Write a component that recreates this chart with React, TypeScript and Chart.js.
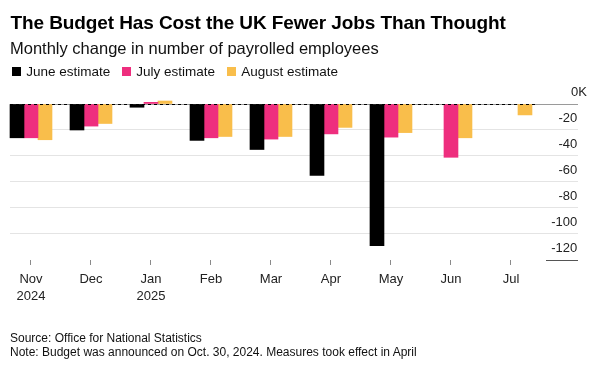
import React, { useEffect, useRef } from 'react';
import { Chart, registerables } from 'chart.js';

Chart.register(...registerables);

const FONT = "'Liberation Sans', Arial, Helvetica, sans-serif";

const titleText = 'The Budget Has Cost the UK Fewer Jobs Than Thought';
const subtitleText = 'Monthly change in number of payrolled employees';
const sourceText = 'Source: Office for National Statistics';
const noteText = 'Note: Budget was announced on Oct. 30, 2024. Measures took effect in April';

const months = ['Nov', 'Dec', 'Jan', 'Feb', 'Mar', 'Apr', 'May', 'Jun', 'Jul'];
const yearLabels = ['2024', '', '2025', '', '', '', '', '', ''];
const seriesNames = ['June estimate', 'July estimate', 'August estimate'];
const seriesColors = ['#000000', '#EE2E7E', '#F9BE4B'];
const juneEstimate = [-26, -20, -2.5, -28, -35, -55, -109, null, null];
const julyEstimate = [-26, -17, 1.3, -26, -27, -23, -25.5, -41, null];
const augustEstimate = [-27.5, -15, 2.3, -25, -25, -18, -22, -26, -8.4];
const yTicks = [0, -20, -40, -60, -80, -100, -120];

const toPoints = (arr: (number | null)[]) => arr.map((v, i) => ({ x: i, y: v }));

const refLinesPlugin = {
  id: 'refLines',
  afterDatasetsDraw(chart: any) {
    const { ctx, chartArea, scales } = chart;
    const x = scales.x;
    const y = scales.y;
    ctx.save();
    ctx.lineWidth = 1;
    const y0 = Math.round(y.getPixelForValue(0)) + 0.5;
    ctx.strokeStyle = '#000';
    ctx.setLineDash([3, 3]);
    ctx.beginPath();
    ctx.moveTo(chartArea.left, y0);
    ctx.lineTo(x.getPixelForValue(months.length - 1 + 0.43), y0);
    ctx.stroke();
    ctx.setLineDash([]);
    const yb = Math.round(y.getPixelForValue(yTicks[yTicks.length - 1])) + 0.5;
    ctx.strokeStyle = '#555';
    ctx.beginPath();
    ctx.moveTo(chartArea.right - 32, yb);
    ctx.lineTo(chartArea.right, yb);
    ctx.stroke();
    ctx.restore();
  },
};

export default function App() {
  const canvasRef = useRef<HTMLCanvasElement | null>(null);

  useEffect(() => {
    if (!canvasRef.current) return;
    Chart.defaults.font.family = FONT;
    const seriesData = [juneEstimate, julyEstimate, augustEstimate];
    const chart = new Chart(canvasRef.current, {
      type: 'bar',
      data: {
        datasets: seriesData.map((d, i) => ({
          label: seriesNames[i],
          data: toPoints(d),
          backgroundColor: seriesColors[i],
          borderWidth: 0,
          barThickness: 14,
          clip: false,
        })) as any,
      },
      options: {
        animation: false,
        responsive: false,
        maintainAspectRatio: false,
        layout: { padding: { left: 10, right: 13, top: 104, bottom: 63.6 } },
        plugins: {
          legend: { display: false },
          tooltip: { enabled: false },
          title: { display: false },
        },
        scales: {
          x: {
            type: 'linear',
            offset: false,
            min: -0.35,
            max: 9.117,
            afterBuildTicks: (scale: any) => {
              scale.ticks = months.map((_, i) => ({ value: i }));
            },
            grid: {
              offset: false,
              drawOnChartArea: false,
              drawTicks: true,
              tickLength: 5,
              tickColor: '#8a8a8a',
              tickWidth: 1,
            },
            border: { display: false },
            ticks: {
              autoSkip: false,
              maxRotation: 0,
              padding: 6,
              color: '#222',
              font: { size: 13, lineHeight: 1.285 },
              callback: (v: any) => {
                const i = Math.round(Number(v));
                return yearLabels[i] ? [months[i], yearLabels[i]] : months[i];
              },
            },
          },
          y: {
            position: 'right',
            min: -120,
            max: 0,
            afterBuildTicks: (scale: any) => {
              scale.ticks = yTicks.map((v) => ({ value: v }));
            },
            grid: {
              drawTicks: false,
              lineWidth: 1,
              color: (ctx: any) => {
                const v = ctx.tick ? ctx.tick.value : null;
                if (v === 0) return '#9a9a9a';
                if (v === yTicks[yTicks.length - 1]) return 'rgba(0,0,0,0)';
                return '#e4e4e4';
              },
            },
            border: { display: false },
            ticks: {
              mirror: true,
              padding: 9,
              labelOffset: -12,
              color: '#222',
              font: { size: 13 },
              callback: (v: any) => (Number(v) === 0 ? '0K' : `${v}\u2007\u2009`),
            },
          },
        } as any,
      },
      plugins: [refLinesPlugin],
    });
    return () => chart.destroy();
  }, []);

  return (
    <div style={{ position: 'absolute', left: 0, top: 0, width: 609, height: 374, fontFamily: FONT, color: '#000' }}>
      <canvas ref={canvasRef} width={609} height={374} style={{ position: 'absolute', left: 0, top: 0 }} />
      <div style={{ position: 'absolute', left: 10.5, top: 13.2, fontSize: 19, lineHeight: '19px', fontWeight: 700, letterSpacing: '-0.1px', whiteSpace: 'nowrap' }}>
        {titleText}
      </div>
      <div style={{ position: 'absolute', left: 10, top: 40.3, fontSize: 16.5, lineHeight: '16.5px', whiteSpace: 'nowrap', color: '#111' }}>
        {subtitleText}
      </div>
      <div style={{ position: 'absolute', left: 12.3, top: 65.1, display: 'flex', alignItems: 'center', fontSize: 13.5, lineHeight: '13.5px', whiteSpace: 'nowrap', color: '#111' }}>
        {seriesNames.map((n, i) => (
          <span key={n} style={{ display: 'flex', alignItems: 'center', marginRight: 12 }}>
            <span style={{ display: 'inline-block', width: 9, height: 9, background: seriesColors[i], marginRight: 5 }} />
            {n}
          </span>
        ))}
      </div>
      <div style={{ position: 'absolute', left: 10, top: 332, fontSize: 12, lineHeight: '13.5px', whiteSpace: 'nowrap', color: '#111' }}>
        <div>{sourceText}</div>
        <div>{noteText}</div>
      </div>
    </div>
  );
}
